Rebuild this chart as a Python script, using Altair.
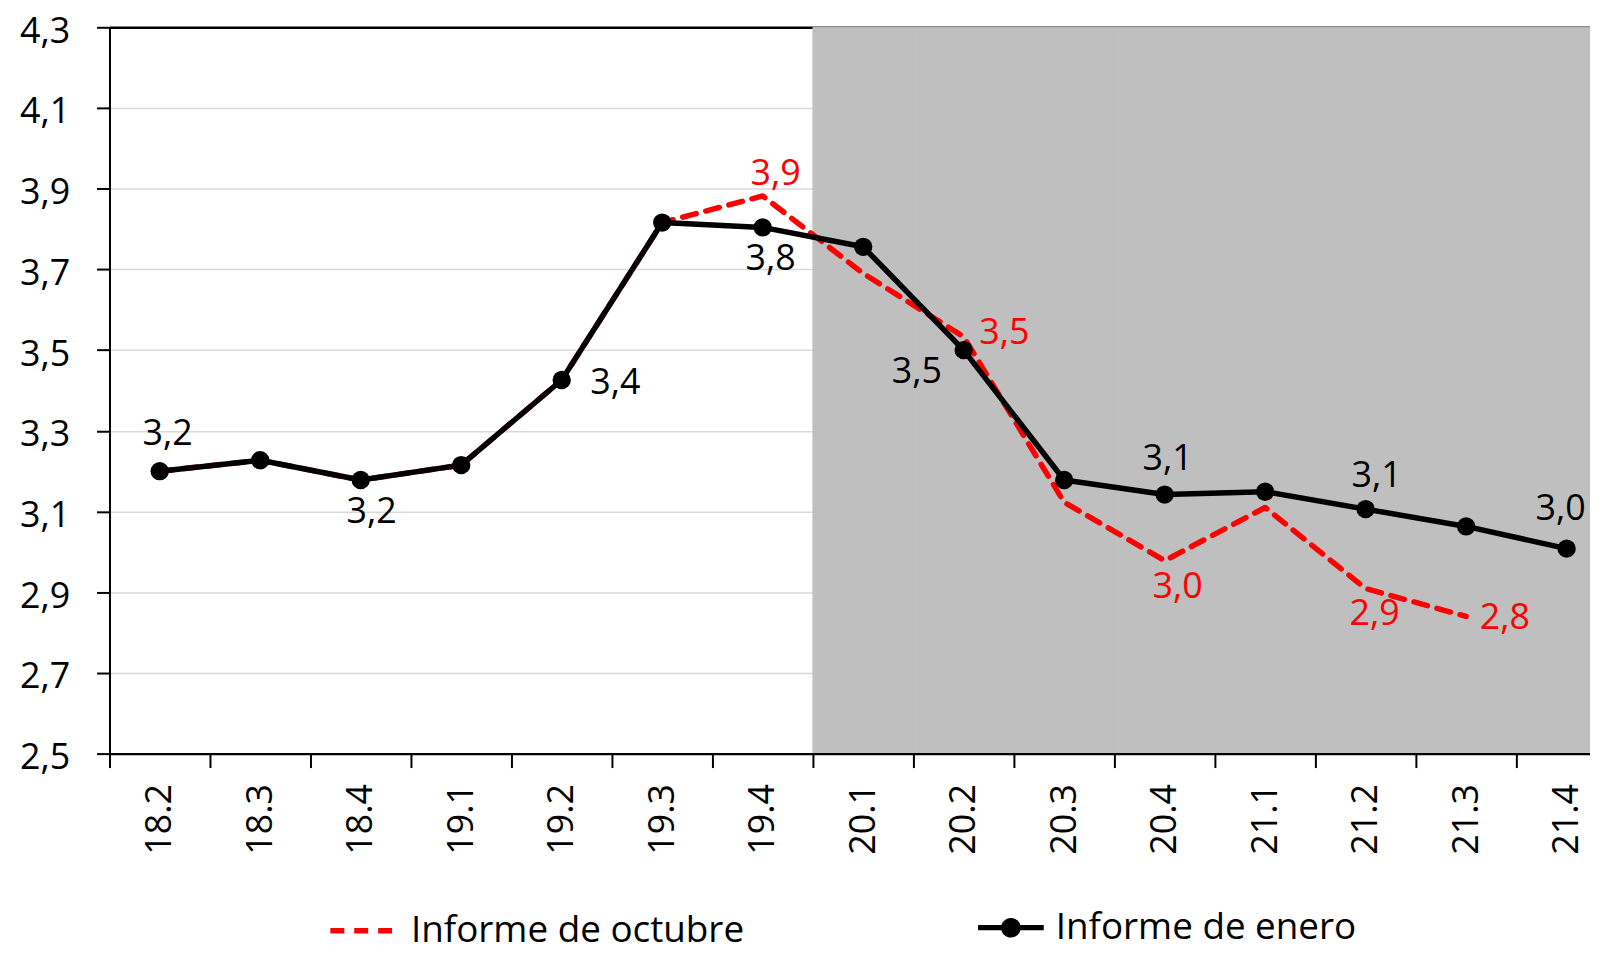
import altair as alt
import pandas as pd

# ---------------- data ----------------
CATS = ["18.2", "18.3", "18.4", "19.1", "19.2", "19.3", "19.4",
        "20.1", "20.2", "20.3", "20.4", "21.1", "21.2", "21.3", "21.4"]
ENERO = [3.200, 3.227, 3.178, 3.215, 3.426, 3.816, 3.804,
         3.756, 3.500, 3.178, 3.142, 3.149, 3.106, 3.063, 3.008]
OCTUBRE = [3.200, 3.227, 3.178, 3.215, 3.426, 3.816, 3.882,
           3.690, 3.533, 3.123, 2.978, 3.110, 2.909, 2.840, None]
SERIES = ["Informe de octubre", "Informe de enero"]
SHADED = ["20.1", "20.2", "20.3", "20.4", "21.1", "21.2", "21.3", "21.4"]
Y_TICKS = [2.5, 2.7, 2.9, 3.1, 3.3, 3.5, 3.7, 3.9, 4.1, 4.3]
LABELED_OCT = ["19.4", "20.2", "20.4", "21.2", "21.3"]
LABELED_ENE = ["18.2", "18.4", "19.2", "19.4", "20.2", "20.4", "21.2", "21.4"]

# ---------------- styles (label placement offsets in px) ----------------
OFF_OCT = {"19.4": (13, -22), "20.2": (41, -4), "20.4": (13, 26),
           "21.2": (9, 26), "21.3": (39, 2)}
OFF_ENE = {"18.2": (8, -37), "18.4": (11, 32), "19.2": (54, 3), "19.4": (8, 32),
           "20.2": (-47, 22), "20.4": (3, -36), "21.2": (11, -33), "21.4": (-6, -40)}
FONT = "Open Sans"
RED = "#ff0000"
GRAY = "#bfbfbf"
FS = 36

rows = []
for s, vals in zip(SERIES, [OCTUBRE, ENERO]):
    for c, v in zip(CATS, vals):
        if v is not None:
            rows.append({"cat": c, "value": v, "series": s})
df = pd.DataFrame(rows)
shade_df = pd.DataFrame({"cat": SHADED, "top": Y_TICKS[-1], "bottom": Y_TICKS[0]})

X = alt.X(
    "cat:N", sort=CATS, title=None,
    scale=alt.Scale(type="band", domain=CATS, range=[0, 1515], paddingInner=0, paddingOuter=0),
    axis=alt.Axis(labelAngle=270, labelFont=FONT, labelFontSize=FS, labelColor="black",
                  labelPadding=16, tickSize=14, tickWidth=2, tickColor="black",
                  domainColor="black", domainWidth=2.5, tickBand="extent",
                  grid=False, zindex=1),
)
y_scale = alt.Scale(domain=[Y_TICKS[0], Y_TICKS[-1]], nice=False, zero=False)
y_axis = alt.Axis(values=Y_TICKS, labelExpr="replace(format(datum.value, '.1f'), '.', ',')",
                  labelFont=FONT, labelFontSize=FS, labelColor="black", labelPadding=27,
                  labelOffset=4,
                  tickSize=13, tickWidth=2, tickColor="black", domainColor="black",
                  domainWidth=2, grid=True,
                  gridColor=alt.condition("datum.value > 4.29", alt.value("black"), alt.value("#d9d9d9")),
                  gridWidth=alt.condition("datum.value > 4.29", alt.value(2.5), alt.value(1.5)),
                  zindex=0)
Y = alt.Y("value:Q", title=None, scale=y_scale, axis=y_axis)

LEG_COMMON = dict(title=None, orient="none", direction="horizontal", symbolSize=4356,
                  labelFont=FONT, labelFontSize=37, labelColor="black", labelOffset=12,
                  labelLimit=800, padding=0, legendY=872)
LEG_OCT = alt.Legend(legendX=219, symbolType="stroke", symbolStrokeWidth=5.5,
                     symbolStrokeColor=RED, **LEG_COMMON)
# line segment (thin bar) with a filled dot in the middle
ENERO_SYMBOL = ("M-1,-0.08L1,-0.08L1,0.08L-1,0.08Z"
                "M0.3,0A0.3,0.3,0,1,1,-0.3,0A0.3,0.3,0,1,1,0.3,0Z")
LEG_ENE = alt.Legend(legendX=873, symbolType=ENERO_SYMBOL, symbolStrokeWidth=0,
                     symbolFillColor="black", **LEG_COMMON)

shade = alt.Chart(shade_df).mark_bar(color=GRAY, stroke=GRAY, strokeWidth=1).encode(
    x=X, y=alt.Y("top:Q", title=None, scale=y_scale, axis=y_axis), y2="bottom:Q")

red_line = (alt.Chart(df).transform_filter(alt.datum.series == SERIES[0])
            .mark_line(strokeWidth=5.5, strokeJoin="round", strokeCap="round", color=RED)
            .encode(x=X, y=Y,
                    strokeDash=alt.StrokeDash("series:N", scale=alt.Scale(domain=[SERIES[0]], range=[[14, 10]]),
                                              legend=LEG_OCT)))
black_line = (alt.Chart(df).transform_filter(alt.datum.series == SERIES[1])
              .mark_line(strokeWidth=5.5, strokeJoin="round", color="black")
              .encode(x=X, y=Y))
points = (alt.Chart(df).transform_filter(alt.datum.series == SERIES[1])
          .mark_circle(size=340, color="black")
          .encode(x=X, y=Y,
                  opacity=alt.Opacity("series:N", scale=alt.Scale(domain=[SERIES[1]], range=[1]),
                                      legend=LEG_ENE)))

layers = [shade, red_line, black_line, points]
for series, cats, offs, col in [(SERIES[0], LABELED_OCT, OFF_OCT, RED),
                                (SERIES[1], LABELED_ENE, OFF_ENE, "black")]:
    for c in cats:
        dx, dy = offs[c]
        layers.append(
            alt.Chart(df)
            .transform_filter((alt.datum.series == series) & (alt.datum.cat == c))
            .transform_calculate(label="replace(format(datum.value, '.1f'), '.', ',')")
            .mark_text(font=FONT, fontSize=FS, color=col, dx=dx, dy=dy,
                       align="center", baseline="middle")
            .encode(x=X, y=Y, text="label:N")
        )

chart = alt.layer(*layers).properties(
    width=1488, height=730,
    autosize=alt.AutoSizeParams(type="none"),
    padding={"left": 102, "top": 17, "right": 0, "bottom": 199},
    background="white",
).configure_view(stroke=None)

chart.save("out.html", embed_options={"renderer": "svg", "actions": False})
